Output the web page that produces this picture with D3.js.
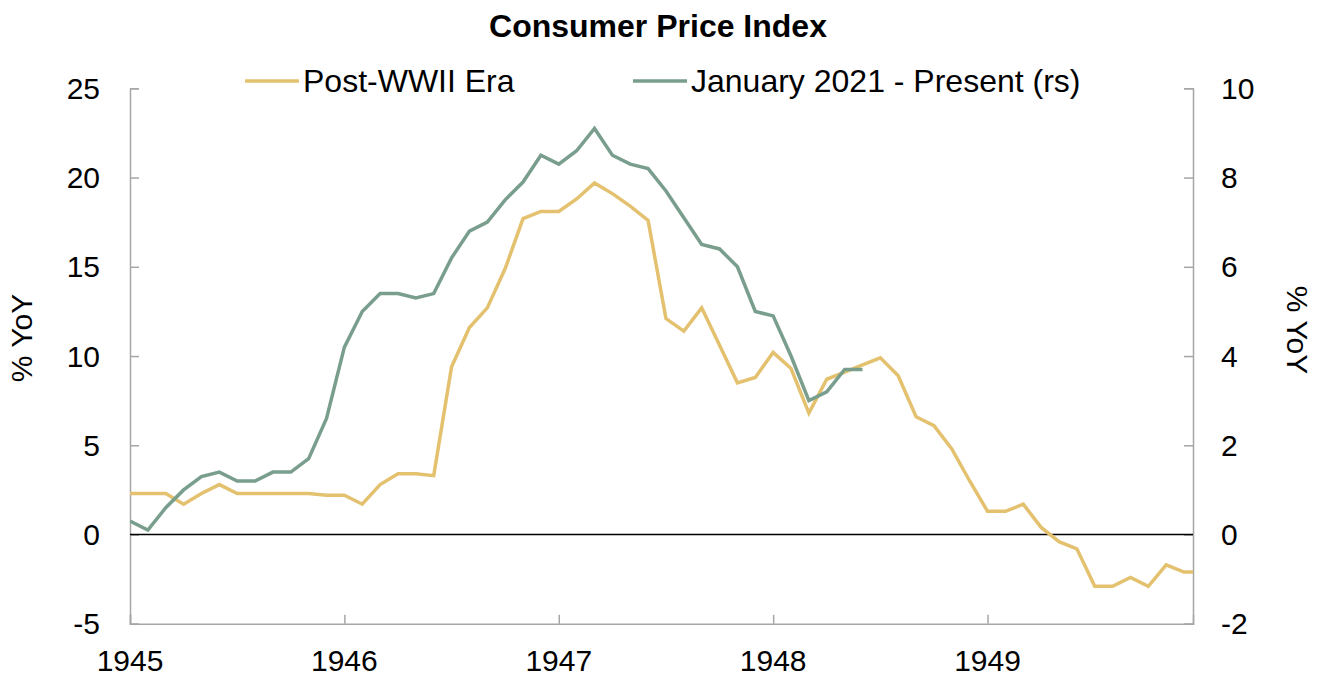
<!DOCTYPE html>
<html>
<head>
<meta charset="utf-8">
<script src="https://cdn.jsdelivr.net/npm/d3@7"></script>
<style>
  body { margin: 0; background: #fff; }
  text { font-family: "Liberation Sans", Arial, sans-serif; fill: #000; }
</style>
</head>
<body>
<div id="chart"></div>
<script>
// month index 0 = Jan 1945 (post-WWII) / Jan 2021 (recent)
const yearTicks = [0, 12, 24, 36, 48];
const yearLabels = ["1945", "1946", "1947", "1948", "1949"];

const postWWII = [
    2.3, 2.3, 2.3, 1.7, 2.3, 2.8, 2.3, 2.3, 2.3, 2.3, 2.3, 2.2,
    2.2, 1.7, 2.8, 3.4, 3.4, 3.3, 9.4, 11.6, 12.7, 14.9, 17.7, 18.1,
    18.1, 18.8, 19.7, 19.1, 18.4, 17.6, 12.1, 11.4, 12.7, 10.6, 8.5, 8.8,
    10.2, 9.3, 6.8, 8.7, 9.1, 9.5, 9.9, 8.9, 6.6, 6.1, 4.8, 3.0,
    1.3, 1.3, 1.7, 0.4, -0.4, -0.8, -2.9, -2.9, -2.4, -2.9, -1.7, -2.1,
    -2.1
];
const recent = [
    0.3, 0.1, 0.6, 1.0, 1.3, 1.4, 1.2, 1.2, 1.4, 1.4, 1.7, 2.6,
    4.2, 5.0, 5.4, 5.4, 5.3, 5.4, 6.2, 6.8, 7.0, 7.5, 7.9, 8.5,
    8.3, 8.6, 9.1, 8.5, 8.3, 8.2, 7.7, 7.1, 6.5, 6.4, 6.0, 5.0,
    4.9, 4.0, 3.0, 3.2, 3.7, 3.7
];

const leftTicks = [-5, 0, 5, 10, 15, 20, 25];
const rightTicks = [-2, 0, 2, 4, 6, 8, 10];

const width = 1323;
const height = 677;
const plotLeft = 130, plotRight = 1193, plotTop = 88.3, plotBottom = 623.8;
const yellow = "#e3c16f";
const green = "#7a9e8e";
const axisGrey = "#a6a6a6";

const svg = d3.select("#chart")
    .append("svg")
    .attr("width", width)
    .attr("height", height);

const x = d3.scaleLinear().domain([0, 59.5]).range([plotLeft, plotRight]);
const yL = d3.scaleLinear().domain([-5, 25]).range([plotBottom, plotTop]);
const yR = d3.scaleLinear().domain([-2, 10]).range([plotBottom, plotTop]);

svg.append("defs").append("clipPath")
    .attr("id", "plot")
    .append("rect")
    .attr("x", plotLeft).attr("y", 0)
    .attr("width", plotRight - plotLeft).attr("height", height);

// title
svg.append("text")
    .attr("x", 658).attr("y", 37)
    .attr("text-anchor", "middle")
    .attr("font-size", 32)
    .attr("font-weight", "bold")
    .text("Consumer Price Index");

// axes
const leftAxis = svg.append("g")
    .attr("transform", `translate(${plotLeft},0)`)
    .call(d3.axisRight(yL).tickValues(leftTicks).tickSize(9).tickFormat(""));
const rightAxis = svg.append("g")
    .attr("transform", `translate(${plotRight},0)`)
    .call(d3.axisLeft(yR).tickValues(rightTicks).tickSize(9).tickFormat(""));
const bottomAxis = svg.append("g")
    .attr("transform", `translate(0,${plotBottom})`)
    .call(d3.axisTop(x).tickValues(yearTicks).tickSize(9).tickFormat(""));

[leftAxis, rightAxis, bottomAxis].forEach(g => {
    g.select(".domain").attr("stroke", axisGrey).attr("stroke-width", 1.5);
    g.selectAll(".tick line").attr("stroke", axisGrey).attr("stroke-width", 1.5);
});

svg.append("g").selectAll("text")
    .data(leftTicks)
    .enter()
    .append("text")
    .attr("x", 100)
    .attr("y", d => yL(d) + 10.5)
    .attr("text-anchor", "end")
    .attr("font-size", 30)
    .text(d => d);

svg.append("g").selectAll("text")
    .data(rightTicks)
    .enter()
    .append("text")
    .attr("x", 1221)
    .attr("y", d => yR(d) + 10.5)
    .attr("font-size", 30)
    .text(d => d);

svg.append("g").selectAll("text")
    .data(yearTicks)
    .enter()
    .append("text")
    .attr("x", d => x(d))
    .attr("y", 671)
    .attr("text-anchor", "middle")
    .attr("font-size", 30)
    .text((d, i) => yearLabels[i]);

// axis titles
svg.append("text")
    .attr("transform", "translate(32,338) rotate(-90)")
    .attr("text-anchor", "middle")
    .attr("font-size", 30)
    .text("% YoY");
svg.append("text")
    .attr("transform", "translate(1287,330) rotate(90)")
    .attr("text-anchor", "middle")
    .attr("font-size", 30)
    .text("% YoY");

// zero line
svg.append("line")
    .attr("x1", plotLeft).attr("x2", plotRight)
    .attr("y1", yL(0)).attr("y2", yL(0))
    .attr("stroke", "#000")
    .attr("stroke-width", 1.5);

const lineL = d3.line().x((d, i) => x(i)).y(d => yL(d));
const lineR = d3.line().x((d, i) => x(i)).y(d => yR(d));

svg.append("path")
    .datum(postWWII)
    .attr("clip-path", "url(#plot)")
    .attr("d", lineL)
    .attr("fill", "none")
    .attr("stroke", yellow)
    .attr("stroke-width", 3.5);

svg.append("path")
    .datum(recent)
    .attr("clip-path", "url(#plot)")
    .attr("d", lineR)
    .attr("fill", "none")
    .attr("stroke", green)
    .attr("stroke-width", 3.5);

// legend
const legend = [
    { name: "Post-WWII Era", color: yellow, x: 245 },
    { name: "January 2021 - Present (rs)", color: green, x: 633 }
];
const lg = svg.append("g").selectAll("g")
    .data(legend)
    .enter()
    .append("g")
    .attr("transform", d => `translate(${d.x},81)`);
lg.append("line")
    .attr("x1", 0).attr("x2", 54)
    .attr("stroke", d => d.color)
    .attr("stroke-width", 3.5);
lg.append("text")
    .attr("x", 58)
    .attr("y", 10.5)
    .attr("font-size", 32)
    .text(d => d.name);
</script>
</body>
</html>
